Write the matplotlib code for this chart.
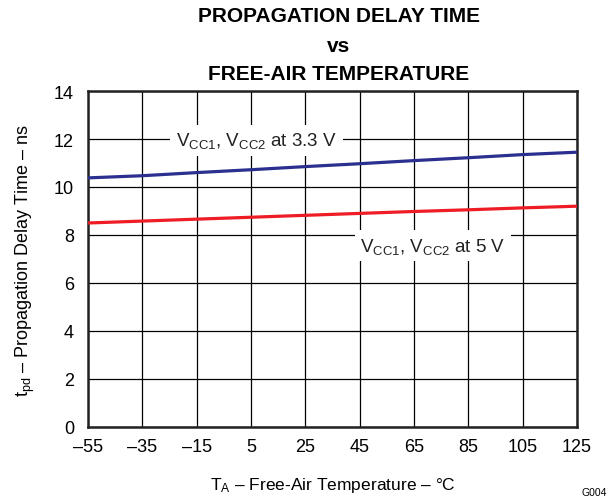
import matplotlib
matplotlib.use("Agg")
import matplotlib.pyplot as plt

plt.rcParams['font.family'] = ['Liberation Sans', 'DejaVu Sans']
plt.rcParams['mathtext.fontset'] = 'custom'
plt.rcParams['mathtext.rm'] = 'Liberation Sans'
plt.rcParams['mathtext.it'] = 'Liberation Sans'

temps = [-55, -35, -15, 5, 25, 45, 65, 85, 105, 125]
tpd_33 = [10.38, 10.47, 10.60, 10.72, 10.85, 10.97, 11.10, 11.22, 11.35, 11.45]
tpd_5 = [8.50, 8.58, 8.66, 8.74, 8.82, 8.90, 8.98, 9.05, 9.13, 9.20]
xticks = [-55, -35, -15, 5, 25, 45, 65, 85, 105, 125]
yticks = [0, 2, 4, 6, 8, 10, 12, 14]

fig = plt.figure(figsize=(6.16, 5.02), dpi=100)
ax = fig.add_axes([88/616, 1-428/502, (577-88)/616, (428-92)/502])

ax.plot(temps, tpd_33, color='#2b2f8f', lw=2.3, zorder=3)
ax.plot(temps, tpd_5, color='#ee1c25', lw=2.3, zorder=3)

ax.set_xlim(-55, 125)
ax.set_ylim(0, 14)
ax.set_xticks(xticks)
ax.set_xticklabels([str(t).replace('-', '\u2013') for t in xticks])
ax.set_yticks(yticks)
ax.grid(True, color='black', lw=0.9)
ax.tick_params(length=0, labelsize=13, pad=8)
ax.tick_params(axis='y', pad=10)
for s in ax.spines.values():
    s.set_linewidth(1.8)
    s.set_color('#222222')

bbox = dict(facecolor='white', edgecolor='none', pad=4)
ax.text(7, 11.95, r'V$_{\mathregular{CC1}}$, V$_{\mathregular{CC2}}$ at 3.3 V', ha='center', va='center',
        fontsize=13.5, bbox=bbox, zorder=4, color='#222222')
ax.text(72, 7.55, r'V$_{\mathregular{CC1}}$, V$_{\mathregular{CC2}}$ at 5 V', ha='center', va='center',
        fontsize=13.5, bbox=bbox, zorder=4, color='#222222')

ax.set_xlabel(r'T$_{\mathregular{A}}$ – Free-Air Temperature – °C', fontsize=12.5, labelpad=14)
ax.set_ylabel(r't$_{\mathregular{pd}}$ – Propagation Delay Time – ns', fontsize=13, labelpad=12)

fig.text(339/616, 1-16/502, 'PROPAGATION DELAY TIME', ha='center', va='center', fontsize=15, fontweight='bold')
fig.text(339/616, 1-46/502, 'vs', ha='center', va='center', fontsize=15, fontweight='bold')
fig.text(339/616, 1-75/502, 'FREE-AIR TEMPERATURE', ha='center', va='center', fontsize=15, fontweight='bold')
fig.text(594/616, 1-493/502, 'G004', ha='center', va='center', fontsize=7.5)

fig.savefig('out.png', dpi=100)
